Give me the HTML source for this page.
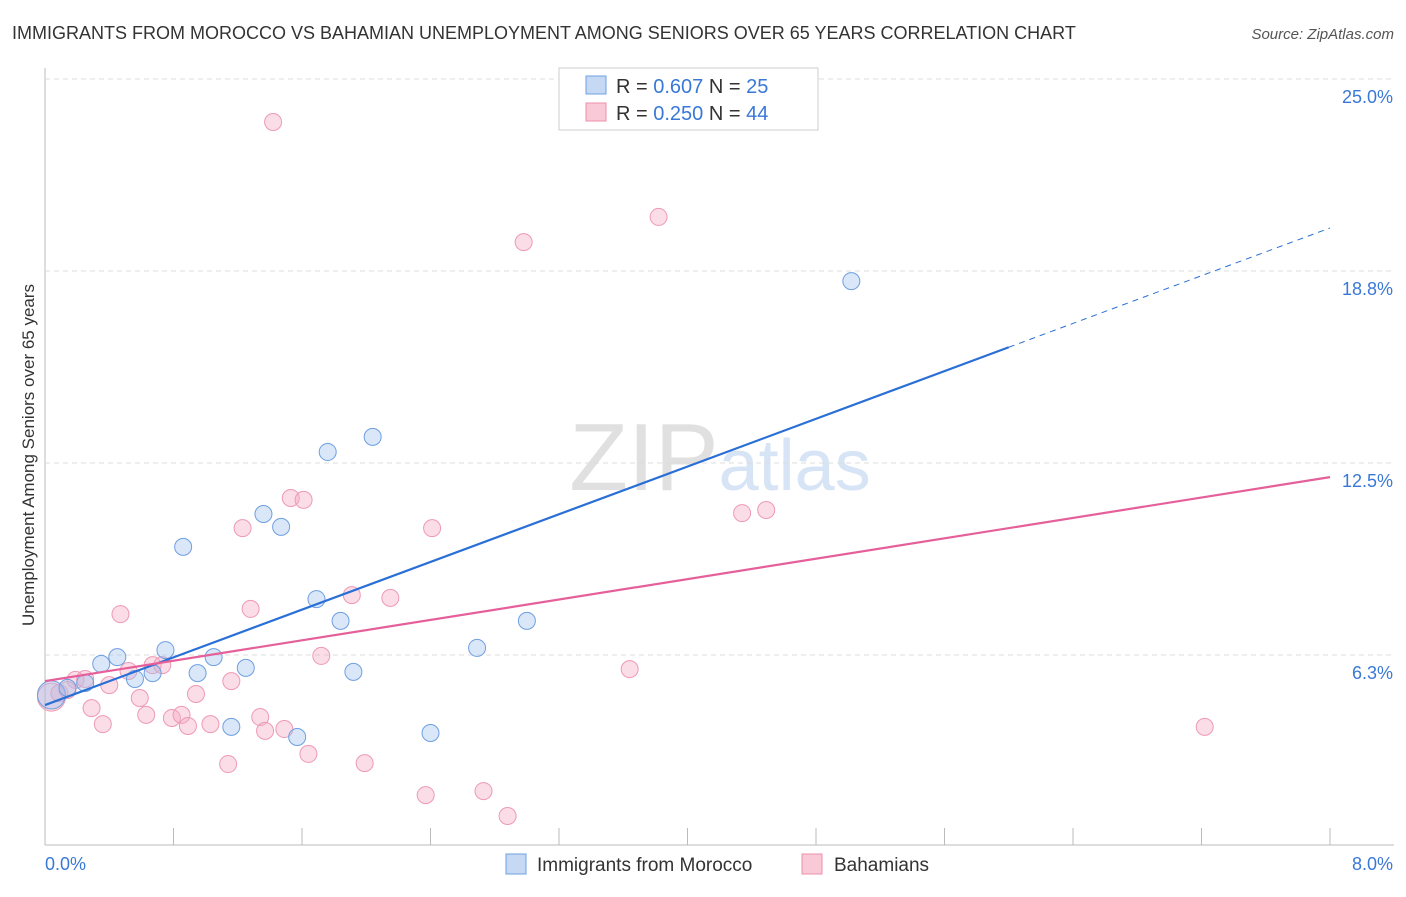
<!DOCTYPE html>
<html><head><meta charset="utf-8"><style>
body{margin:0;background:#fff;font-family:"Liberation Sans",sans-serif}
svg text{font-family:"Liberation Sans",sans-serif}
</style></head><body>
<svg id="c" width="1406" height="892">
<text x="12" y="39" font-size="18" fill="#333">IMMIGRANTS FROM MOROCCO VS BAHAMIAN UNEMPLOYMENT AMONG SENIORS OVER 65 YEARS CORRELATION CHART</text>
<text x="1394" y="39" font-size="15" fill="#555" text-anchor="end" font-style="italic">Source: ZipAtlas.com</text>
<text x="720" y="490" font-size="96" fill="#ddd" text-anchor="middle" font-family="Liberation Serif"><tspan fill="#e0e0e0">ZIP</tspan><tspan fill="#d6e4f5" font-family="Liberation Sans" font-size="72">atlas</tspan></text>
<text transform="translate(34,455) rotate(-90)" font-size="17" fill="#333" text-anchor="middle">Unemployment Among Seniors over 65 years</text>
<g id="grid"></g><g id="marks"></g>
<g>
<rect x="559" y="68" width="259" height="62" fill="#fff" stroke="#ccc"/>
<rect x="586" y="76" width="20" height="18" fill="#c5d9f5" stroke="#6f9fe0"/>
<text x="616" y="93" font-size="20" fill="#333">R = <tspan fill="#3a78d8">0.607</tspan>   N = <tspan fill="#3a78d8">25</tspan></text>
<rect x="586" y="103" width="20" height="18" fill="#f9c9d7" stroke="#ee8fab"/>
<text x="616" y="120" font-size="20" fill="#333">R = <tspan fill="#3a78d8">0.250</tspan>   N = <tspan fill="#3a78d8">44</tspan></text>
</g>
<g>
<rect x="506" y="854" width="20" height="20" fill="#c5d9f5" stroke="#6f9fe0"/>
<text x="537" y="871" font-size="19" fill="#333">Immigrants from Morocco</text>
<rect x="802" y="854" width="20" height="20" fill="#f9c9d7" stroke="#ee8fab"/>
<text x="834" y="871" font-size="19" fill="#333">Bahamians</text>
</g>
</svg>
<script>
const xTicks=[0,0.8,1.6,2.4,3.2,4.0,4.8,5.6,6.4,7.2,8.0];
const yTicks=[6.25,12.5,18.75,25];
const yTickLabels=["6.3%","12.5%","18.8%","25.0%"];
const blueX=[0.04,0.14,0.25,0.35,0.45,0.56,0.67,0.75,0.86,0.95,1.05,1.16,1.25,1.36,1.47,1.57,1.69,1.76,1.84,1.92,2.04,2.40,2.69,3.00,5.02];
const blueY=[4.95,5.18,5.34,5.96,6.18,5.47,5.66,6.41,9.77,5.66,6.18,3.91,5.83,10.84,10.42,3.58,8.07,12.86,7.36,5.70,13.35,3.71,6.48,7.36,18.42];
const pinkX=[0.04,0.09,0.19,0.25,0.40,0.36,0.29,0.47,0.52,0.59,0.63,0.67,0.73,0.79,0.85,0.89,0.94,1.03,1.14,1.16,1.23,1.28,1.34,1.37,1.42,1.49,1.53,1.61,1.64,1.72,1.91,1.99,2.15,2.37,2.41,2.73,2.88,2.98,3.64,3.82,4.34,4.49,7.22,0.14];
const pinkY=[4.88,5.01,5.44,5.47,5.27,4.00,4.52,7.58,5.73,4.85,4.30,5.92,5.92,4.20,4.30,3.94,4.98,4.00,2.70,5.40,10.38,7.75,4.23,3.78,23.60,3.84,11.36,11.30,3.03,6.22,8.20,2.73,8.11,1.69,10.38,1.82,1.01,19.69,5.79,20.51,10.87,10.97,3.91,5.11];
const blueLine=[4.62,20.15], pinkLine=[5.40,12.04], blueSolidEnd=6.0;
const X=v=>45+v/8*1285, Y=v=>847-v/25*768;
const NS="http://www.w3.org/2000/svg";
const grid=document.getElementById('grid'), marks=document.getElementById('marks');
function mk(p,tag,a){const e=document.createElementNS(NS,tag);for(const k in a)e.setAttribute(k,a[k]);p.appendChild(e);return e;}
let ax=mk(grid,'line',{x1:45,y1:68,x2:45,y2:845,stroke:'#bbb'});


let bx=mk(grid,'line',{x1:45,y1:845,x2:1394,y2:845,stroke:'#bbb'});


yTicks.forEach((t,i)=>{
 let g=mk(grid,'line',{x1:45,x2:1394,y1:Y(t),y2:Y(t),stroke:'#ddd','stroke-dasharray':'5,4'});
 
 
 let l=mk(grid,'text',{x:1393,y:Y(t)+24,'font-size':18,fill:'#3a78d8','text-anchor':'end'});l.textContent=yTickLabels[i];
 
 
});
xTicks.forEach(t=>{
 let k=mk(grid,'line',{x1:X(t),x2:X(t),y1:828,y2:845,stroke:'#bbb'});
 
 
});
[[0,"0.0%","start",45],[8,"8.0%","end",1393]].forEach(([v,s,a,x])=>{
 let l=mk(grid,'text',{x:x,y:870,'font-size':18,fill:'#3a78d8','text-anchor':a});l.textContent=s;
 
 
});
pinkX.forEach((x,i)=>{
 let c=mk(marks,'circle',{cx:X(x),cy:Y(pinkY[i]),r:i==0?14:8.5,fill:'rgba(246,170,195,0.4)',stroke:'#ee9ab4','stroke-width':1});
 
 
});
blueX.forEach((x,i)=>{
 let c=mk(marks,'circle',{cx:X(x),cy:Y(blueY[i]),r:i==0?14:8.5,fill:'rgba(160,195,240,0.4)',stroke:'#6f9fe0','stroke-width':1});
 
 
});
const bl=v=>blueLine[0]+(blueLine[1]-blueLine[0])*v/8, pl=v=>pinkLine[0]+(pinkLine[1]-pinkLine[0])*v/8;
let t1=mk(marks,'line',{x1:X(0),y1:Y(bl(0)),x2:X(blueSolidEnd),y2:Y(bl(blueSolidEnd)),stroke:'#2a6fd6','stroke-width':2.2});


let t2=mk(marks,'line',{x1:X(blueSolidEnd),y1:Y(bl(blueSolidEnd)),x2:X(8),y2:Y(bl(8)),stroke:'#2a6fd6','stroke-width':1,'stroke-dasharray':'6,5'});


let t3=mk(marks,'line',{x1:X(0),y1:Y(pl(0)),x2:X(8),y2:Y(pl(8)),stroke:'#e5609a','stroke-width':2.2});


</script>
</body></html>
